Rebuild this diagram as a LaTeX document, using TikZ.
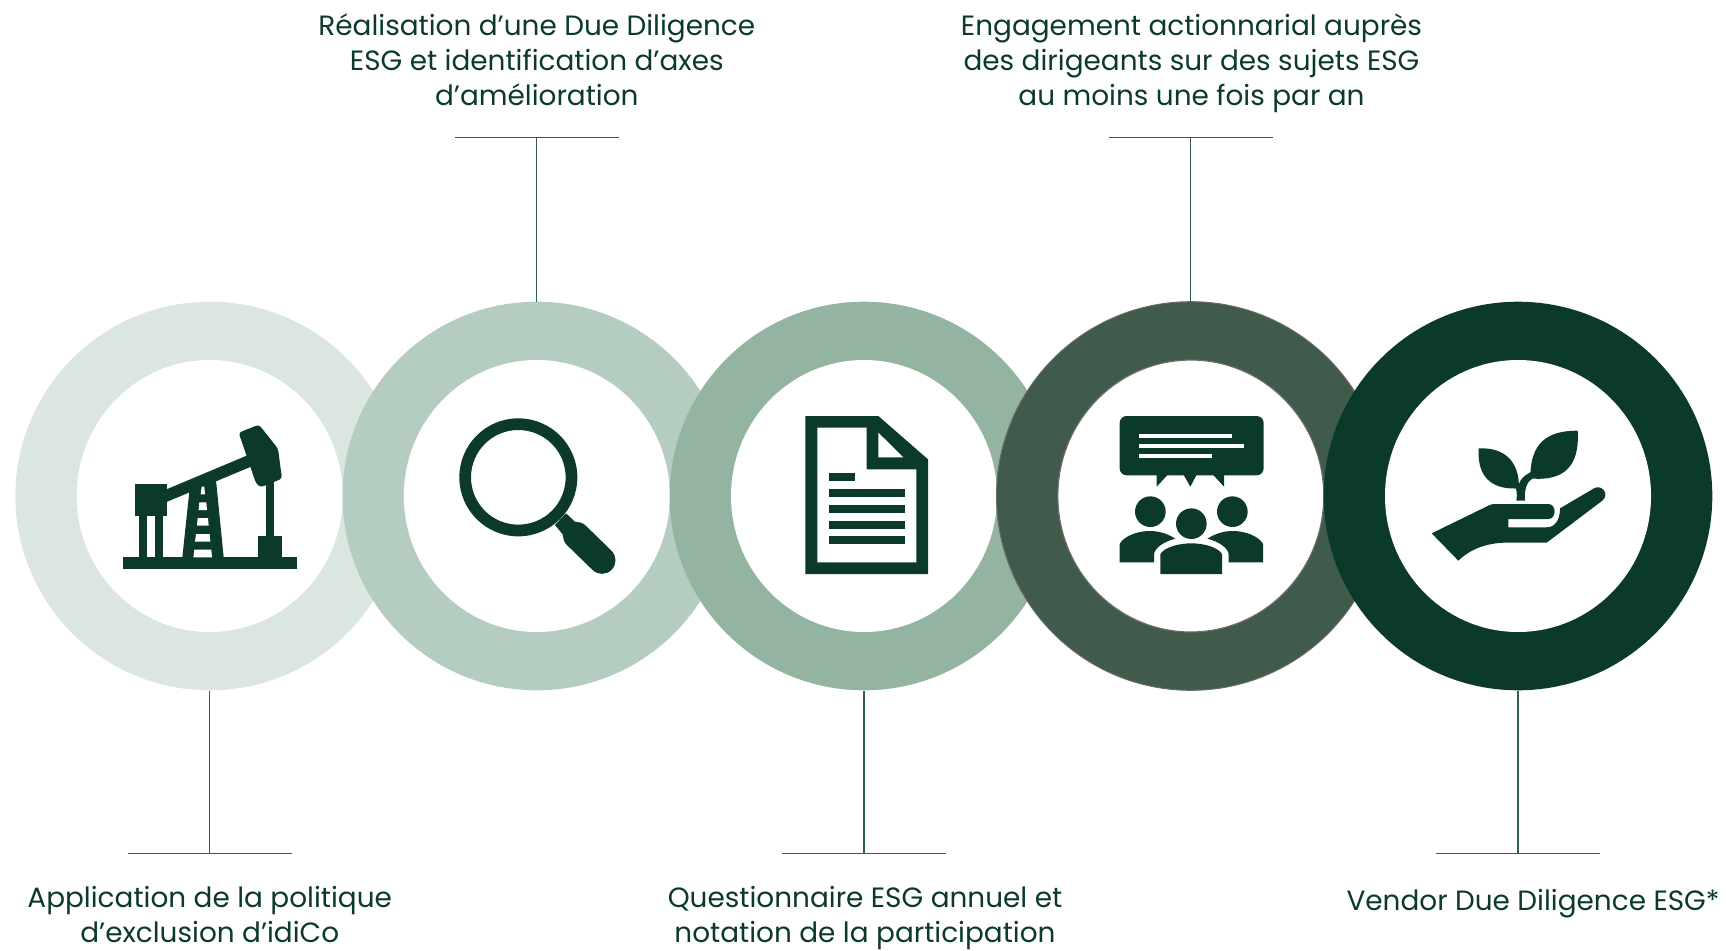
\documentclass[tikz,border=0pt]{standalone}
\usepackage{fontspec}
\usetikzlibrary{shapes.geometric}
\setmainfont{Poppins}
\definecolor{ink}{HTML}{0B3A2B}
\definecolor{ringA}{HTML}{DCE6E1}
\definecolor{ringB}{HTML}{B5CCC0}
\definecolor{ringC}{HTML}{94B4A2}
\definecolor{ringD}{HTML}{405B4C}
\definecolor{ringDline}{HTML}{6B6B63}
\definecolor{leader}{HTML}{2F5F50}
\tikzset{
  outerring/.style={circle,inner sep=0pt,minimum size=388.6pt},
  innerhole/.style={ellipse,inner sep=0pt,fill=white,minimum width=266pt,minimum height=272pt},
  label/.style={align=center,text=ink,font=\fontsize{27.9}{35}\selectfont,inner sep=0pt},
  leaderline/.style={draw=leader,line width=1.3pt},
  icon/.style={fill=ink,draw=none},
  iconhole/.style={fill=white,draw=none},
  zoomed/.style={shift={#1},x=1pt/3,y=-1pt/3},
}
\begin{document}
\begin{tikzpicture}[x=1pt,y=-1pt]
\useasboundingbox (0,0) rectangle (1726,950);
% rings
\node[outerring,fill=ringA] (r1) at (209.7,496) {};
\node[innerhole] (h1) at (209.7,496) {};
\node[outerring,fill=ringB] (r2) at (536.8,496) {};
\node[innerhole] (h2) at (536.8,496) {};
\node[outerring,fill=ringC] (r3) at (864,496) {};
\node[innerhole] (h3) at (864,496) {};
\node[outerring,fill=ringD,draw=ringDline,line width=1pt] (r4) at (1190.8,496) {};
\node[innerhole,draw=ringDline,line width=1.2pt] (h4) at (1190.8,496) {};
\node[outerring,fill=ink] (r5) at (1518,496) {};
\node[innerhole] (h5) at (1518,496) {};
% leaders
\coordinate (c1) at (209.7,853.5);
\coordinate (c2) at (536.8,137.8);
\coordinate (c3) at (864,853.5);
\coordinate (c4) at (1190.8,137.8);
\coordinate (c5) at (1518,853.5);
\draw[leaderline] (r1.south) -- (c1);
\draw[leaderline] (r2.north) -- (c2);
\draw[leaderline] (r3.south) -- (c3);
\draw[leaderline] (r4.north) -- (c4);
\draw[leaderline] (r5.south) -- (c5);
\draw[leaderline] ([xshift=-82pt]c1) -- ([xshift=82pt]c1);
\draw[leaderline] ([xshift=-82pt]c2) -- ([xshift=82pt]c2);
\draw[leaderline] ([xshift=-82pt]c3) -- ([xshift=82pt]c3);
\draw[leaderline] ([xshift=-82pt]c4) -- ([xshift=82pt]c4);
\draw[leaderline] ([xshift=-82pt]c5) -- ([xshift=82pt]c5);
% labels
\node[label,anchor=north] (t2) at (536.8,13) {Réalisation d’une Due Diligence\\ESG et identification d’axes\\d’amélioration};
\node[label,anchor=north] (t4) at (1191.5,13) {Engagement actionnarial auprès\\des dirigeants sur des sujets ESG\\au moins une fois par an};
\node[label,anchor=north] (t1) at (209.7,886.5) {Application de la politique\\d’exclusion d’idiCo};
\node[label,anchor=north] (t3) at (865,886.5) {Questionnaire ESG annuel et\\notation de la participation};
\node[label,anchor=north] (t5) at (1533,889) {Vendor Due Diligence ESG*};
% pump jack
\begin{scope}[zoomed={(100,400)}]
\fill[icon] (70,472) rectangle (592,508);
\fill[icon] (106,253) rectangle (201,348);
\fill[icon] (118,348) rectangle (141,472);
\fill[icon] (165,348) rectangle (189,472);
\fill[icon] (190,272) -- (440,167) -- (453,200) -- (190,310) -- cycle;
\fill[icon] (247,472) -- (268,275) -- (348,240) -- (371,472) -- cycle;
\fill[iconhole] (305,260) -- (313,260) -- (315,283) -- (302,283) -- cycle;
\fill[iconhole] (298,307) -- (319,307) -- (321,330) -- (296,330) -- cycle;
\fill[iconhole] (293,354) -- (324,354) -- (326,377) -- (291,377) -- cycle;
\fill[iconhole] (288,402) -- (329,402) -- (331,425) -- (285,425) -- cycle;
\fill[iconhole] (283,449) -- (334,449) -- (336,472) -- (280,472) -- cycle;
\fill[icon,rounded corners=3pt] (416,98) -- (477,74) -- (534,146) -- (546,236) -- (482,262) -- (468,250) -- cycle;
\fill[icon] (497,245) rectangle (521,408);
\fill[icon] (474,408) rectangle (545,472);
\end{scope}
% magnifier
\begin{scope}[zoomed={(440,400)}]
\fill[icon,even odd rule] (235,232) circle[radius=177] (235,232) circle[radius=142];
\fill[icon] (378,340) -- (408,368) -- (372,408) -- (345,375) -- cycle;
\draw[ink,line width=27pt,line cap=round] (409,406) -- (486,481);
\end{scope}
% document
\begin{scope}[zoomed={(790,400)}]
\fill[icon] (46,48) -- (265,48) -- (414,178) -- (414,522) -- (46,522) -- cycle;
\fill[iconhole] (82,83) -- (230,83) -- (230,208) -- (379,208) -- (379,487) -- (82,487) -- cycle;
\fill[iconhole] (265,98) -- (340,172) -- (265,172) -- cycle;
\fill[icon] (117,219) rectangle (195,243);
\fill[icon] (117,267) rectangle (344,291);
\fill[icon] (117,315) rectangle (344,339);
\fill[icon] (117,363) rectangle (344,387);
\fill[icon] (117,409) rectangle (344,433);
\end{scope}
% people
\begin{scope}[zoomed={(1100,400)}]
\fill[icon,rounded corners=7pt] (59,48) rectangle (491,226);
\fill[icon] (170,220) -- (170,260) -- (207,220) -- cycle;
\fill[icon] (248,220) -- (271,260) -- (292,220) -- cycle;
\fill[icon] (335,220) -- (372,260) -- (372,220) -- cycle;
\fill[iconhole] (118,101) rectangle (396,113);
\fill[iconhole] (118,131) rectangle (432,143);
\fill[iconhole] (118,161) rectangle (337,173);
\fill[icon] (151,335) circle[radius=46];
\fill[icon] (397,335) circle[radius=46];
\fill[icon] (274,371) circle[radius=46];
\fill[icon] (59,487) -- (59,432) .. controls (70,410) and (110,393) .. (150,393) .. controls (180,393) and (205,403) .. (226,416) .. controls (190,425) and (162,445) .. (162,465) -- (162,487) -- cycle;
\fill[icon] (489,487) -- (489,432) .. controls (478,410) and (438,393) .. (398,393) .. controls (368,393) and (343,403) .. (322,416) .. controls (358,425) and (386,445) .. (386,465) -- (386,487) -- cycle;
\fill[icon] (181,522) -- (181,462) .. controls (195,440) and (240,430) .. (274,430) .. controls (308,430) and (352,440) .. (366,462) -- (366,522) -- cycle;
\end{scope}
% hand and plant
\begin{scope}[zoomed={(1420,410)}]
\fill[icon] (176,115) .. controls (250,112) and (298,150) .. (297,235) .. controls (225,240) and (170,210) .. (176,115) -- cycle;
\fill[icon] (473,62) .. controls (385,62) and (330,95) .. (331,205) .. controls (430,215) and (480,170) .. (473,62) -- cycle;
\fill[icon] (289,272) .. controls (292,250) and (290,240) .. (285,228) -- (297,222) .. controls (302,205) and (315,195) .. (335,185) -- (338,205) .. controls (320,215) and (312,240) .. (315,272) -- cycle;
\fill[icon] (35,370) -- (205,287) .. controls (212,283) and (218,282) .. (225,282) -- (385,282) .. controls (410,282) and (410,327) .. (385,327) -- (265,327) -- (265,352) -- (380,352) .. controls (405,352) and (420,330) .. (420,295) -- (522,235) .. controls (545,222) and (570,252) .. (547,272) -- (380,398) -- (260,398) .. controls (200,398) and (150,418) .. (115,452) -- cycle;
\end{scope}
\end{tikzpicture}
\end{document}
